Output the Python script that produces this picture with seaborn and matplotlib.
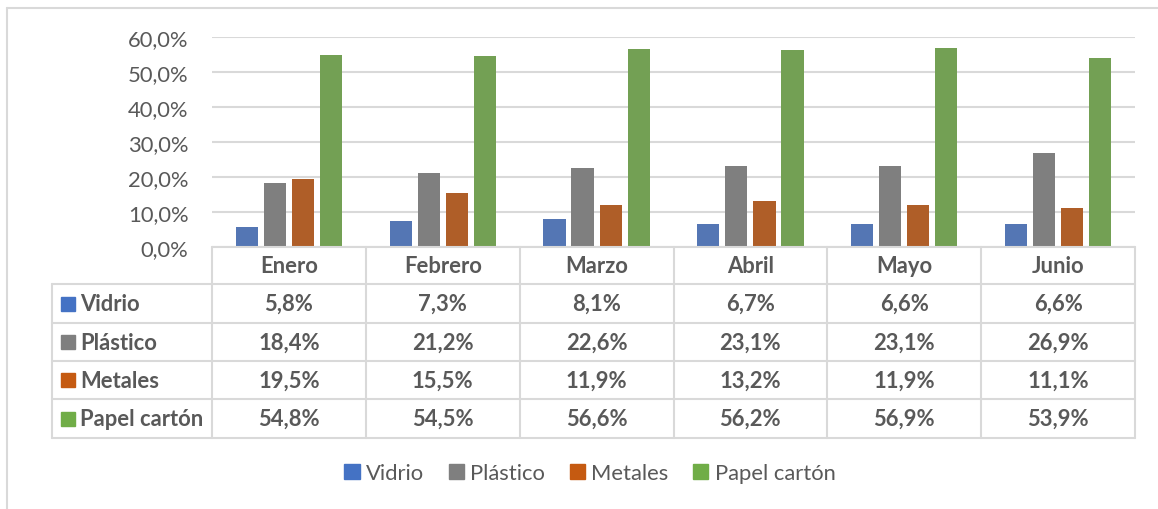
import pandas as pd
import matplotlib.pyplot as plt
import seaborn as sns
from matplotlib.lines import Line2D
from matplotlib.patches import Patch, Rectangle

# data
meses = ['Enero', 'Febrero', 'Marzo', 'Abril', 'Mayo', 'Junio']
materiales = ['Vidrio', 'Plástico', 'Metales', 'Papel cartón']
vidrio = [5.8, 7.3, 8.1, 6.7, 6.6, 6.6]
plastico = [18.4, 21.2, 22.6, 23.1, 23.1, 26.9]
metales = [19.5, 15.5, 11.9, 13.2, 11.9, 11.1]
papel = [54.8, 54.5, 56.6, 56.2, 56.9, 53.9]
colores = ['#4472C4', '#7F7F7F', '#C55A11', '#70AD47']

series = [vidrio, plastico, metales, papel]
rows = []
for mat, vals in zip(materiales, series):
    for mes, v in zip(meses, vals):
        rows.append({'mes': mes, 'material': mat, 'valor': v})
df = pd.DataFrame(rows)

sns.set_theme(style='white')
plt.rcParams['font.family'] = ['Lato', 'DejaVu Sans']

W, H = 1158, 510
fig = plt.figure(figsize=(W / 100, H / 100), dpi=100)

def fx(x):
    return x / W

def fy(y):
    return 1 - y / H

TXT = '#595959'
GRID = '#D9D9D9'
FS = 15.8
x0, x1 = 212, 1135
y_top, y_bot = 38, 248

ax = fig.add_axes([fx(x0), fy(y_bot), fx(x1) - fx(x0), fy(y_top) - fy(y_bot)])
sns.barplot(data=df, x='mes', y='valor', hue='material', palette=colores,
            width=0.73, gap=0.21, legend=False, linewidth=0, ax=ax)
ax.set_ylim(0, 60)
ax.set_xlim(-0.5, len(meses) - 0.5)
ax.set_yticks(range(0, 61, 10))
ax.set_yticklabels([f'{t},0%' for t in range(0, 61, 10)], color=TXT, fontsize=FS)
ax.tick_params(axis='y', length=0, pad=17)
ax.set_xticks([])
ax.set_xlabel('')
ax.set_ylabel('')
for s in ax.spines.values():
    s.set_visible(False)
ax.grid(axis='y', color=GRID, linewidth=1.5)
ax.set_axisbelow(True)

# outer chart frame (top and left edges visible)
fig.add_artist(Line2D([fx(7), 1], [fy(9), fy(9)], color=GRID, lw=1.5))
fig.add_artist(Line2D([fx(7), fx(7)], [fy(9), 0], color=GRID, lw=1.5))

# data table below the plot
col_w = (x1 - x0) / len(meses)
row_y = [285, 324, 362, 400, 439]
tx0 = 52
fig.add_artist(Line2D([fx(x0), fx(x1)], [fy(y_bot), fy(y_bot)], color=GRID, lw=1.5))
for yy in row_y:
    fig.add_artist(Line2D([fx(tx0), fx(x1)], [fy(yy), fy(yy)], color=GRID, lw=1.5))
for i in range(len(meses) + 1):
    xx = x0 + i * col_w
    fig.add_artist(Line2D([fx(xx), fx(xx)], [fy(y_bot), fy(row_y[-1])], color=GRID, lw=1.5))
fig.add_artist(Line2D([fx(tx0), fx(tx0)], [fy(row_y[0]), fy(row_y[-1])], color=GRID, lw=1.5))

for i, mes in enumerate(meses):
    fig.text(fx(x0 + (i + 0.5) * col_w), fy((y_bot + row_y[0]) / 2), mes,
             ha='center', va='center', fontsize=FS, fontweight='bold', color=TXT)

for r, (mat, vals, c) in enumerate(zip(materiales, series, colores)):
    yc = (row_y[r] + row_y[r + 1]) / 2
    fig.add_artist(Rectangle((fx(61), fy(yc + 7)), fx(14), 14 / H, color=c))
    fig.text(fx(80), fy(yc), mat, ha='left', va='center', fontsize=FS,
             fontweight='bold', color=TXT)
    for i, v in enumerate(vals):
        fig.text(fx(x0 + (i + 0.5) * col_w), fy(yc), f'{v:.1f}%'.replace('.', ','),
                 ha='center', va='center', fontsize=FS, fontweight='bold', color=TXT)

handles = [Patch(color=c, label=m) for m, c in zip(materiales, colores)]
leg = fig.legend(handles=handles, loc='center', bbox_to_anchor=(fx(590), fy(474)),
                 ncol=4, frameon=False, fontsize=FS, handlelength=0.7, handleheight=0.7,
                 handletextpad=0.3, columnspacing=1.1)
for t in leg.get_texts():
    t.set_color(TXT)

fig.savefig('out.png', dpi=100)
